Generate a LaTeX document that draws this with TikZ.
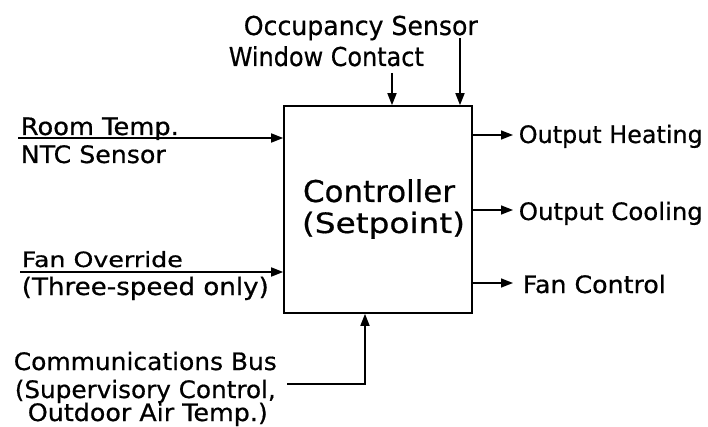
\documentclass[tikz,border=0pt]{standalone}
\usepackage{fontspec}
\usepackage{graphicx}
\newfontfamily\cad[FakeBold=0.6]{DejaVu Sans}
\newcommand{\fitw}[2]{\resizebox{#1}{\height}{#2}}
\usetikzlibrary{arrows.meta}
\begin{document}
\begin{tikzpicture}[x=1pt,y=-1pt,
  line width=1.6pt,
  >={Triangle[length=12pt,width=9pt]},
  lbl/.style={font=\cad\fontsize{24}{28}\selectfont, inner sep=0pt, anchor=base west},
  toplbl/.style={lbl, font=\cad\fontsize{26}{28}\selectfont},
  smlbl/.style={lbl, font=\cad\fontsize{21}{28}\selectfont},
  ctrlbox/.style={draw, line width=1.6pt, minimum width=188pt, minimum height=207pt},
  bigtxt/.style={font=\cad\fontsize{30}{28}\selectfont, inner sep=0pt, anchor=base},
  conn/.style={->, line width=1.6pt}]
\useasboundingbox (0,0) rectangle (708,427);
\node[ctrlbox] (ctrl) at (378,209.5) {};
\node[bigtxt] (ct1) at (379,202) {\fitw{152pt}{Controller}};
\node[bigtxt, font=\cad\fontsize{28}{28}\selectfont] (ct2) at (383.5,233) {\fitw{163pt}{(Setpoint)}};
% left inputs
\coordinate (rt) at (18,138);
\coordinate (fo) at (20,272);
\draw[conn] (rt) -- (rt -| ctrl.west);
\draw[conn] (fo) -- (fo -| ctrl.west);
\node[lbl] (t1) at (20,135) {\fitw{158pt}{Room Temp.}};
\node[lbl] (t2) at (20,163) {\fitw{145pt}{NTC Sensor}};
\node[smlbl] (t3) at (21,267) {\fitw{161pt}{Fan Override}};
\node[lbl] (t4) at (21,295) {\fitw{247pt}{(Three-speed only)}};
% top inputs
\node[toplbl] (t5) at (243,35) {\fitw{234pt}{Occupancy Sensor}};
\node[toplbl] (t6) at (228,66) {\fitw{195pt}{Window Contact}};
\coordinate (wc) at (392,73);
\coordinate (oc) at (460,38);
\draw[conn] (wc) -- (wc |- ctrl.north);
\draw[conn] (oc) -- (oc |- ctrl.north);
% outputs
\coordinate (oh) at (513,135);
\coordinate (ocl) at (513,210);
\coordinate (fc) at (513,283);
\draw[conn] (oh -| ctrl.east) -- (oh);
\draw[conn] (ocl -| ctrl.east) -- (ocl);
\draw[conn] (fc -| ctrl.east) -- (fc);
\node[lbl] (o1) at (518,143) {\fitw{184pt}{Output Heating}};
\node[lbl] (o2) at (518,220) {\fitw{184pt}{Output Cooling}};
\node[lbl] (o3) at (522,293) {\fitw{143pt}{Fan Control}};
% bottom input
\node[lbl] (b1) at (13,370) {\fitw{263pt}{Communications Bus}};
\node[lbl] (b2) at (14,398) {\fitw{261pt}{(Supervisory Control,}};
\node[lbl] (b3) at (27,421) {\fitw{240pt}{Outdoor Air Temp.)}};
\coordinate (cb) at (287,384);
\coordinate (cbx) at (365,384);
\draw[conn] (cb) -- (cbx) -- (cbx |- ctrl.south);
\end{tikzpicture}
\end{document}
